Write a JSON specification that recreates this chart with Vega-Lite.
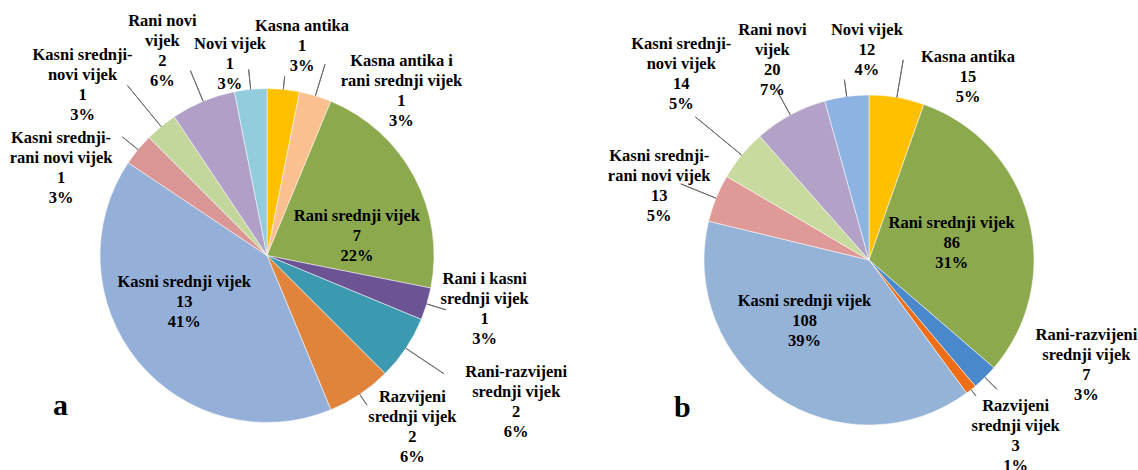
{
  "$schema": "https://vega.github.io/schema/vega-lite/v6.json",
  "padding": {"left": 0, "top": 5, "right": 0, "bottom": 0},
  "bounds": "flush",
  "spacing": 66,
  "background": "white",
  "config": {
    "view": {"stroke": null},
    "text": {"font": "Liberation Serif", "fontWeight": "bold", "fontSize": 16.5, "lineHeight": 20, "lineBreak": "\n", "align": "center", "baseline": "middle", "fill": "black"}
  },
  "datasets": {
    "a": [
      {"name": "Kasna antika", "value": 1, "label": "Kasna antika\n1\n3%"},
      {"name": "Kasna antika i rani srednji vijek", "value": 1, "label": "Kasna antika i\nrani srednji vijek\n1\n3%"},
      {"name": "Rani srednji vijek", "value": 7, "label": "Rani srednji vijek\n7\n22%"},
      {"name": "Rani i kasni srednji vijek", "value": 1, "label": "Rani i kasni\nsrednji vijek\n1\n3%"},
      {"name": "Rani-razvijeni srednji vijek", "value": 2, "label": "Rani-razvijeni\nsrednji vijek\n2\n6%"},
      {"name": "Razvijeni srednji vijek", "value": 2, "label": "Razvijeni\nsrednji vijek\n2\n6%"},
      {"name": "Kasni srednji vijek", "value": 13, "label": "Kasni srednji vijek\n13\n41%"},
      {"name": "Kasni srednji-rani novi vijek", "value": 1, "label": "Kasni srednji-\nrani novi vijek\n1\n3%"},
      {"name": "Kasni srednji-novi vijek", "value": 1, "label": "Kasni srednji-\nnovi vijek\n1\n3%"},
      {"name": "Rani novi vijek", "value": 2, "label": "Rani novi\nvijek\n2\n6%"},
      {"name": "Novi vijek", "value": 1, "label": "Novi  vijek\n1\n3%"}
    ],
    "b": [
      {"name": "Kasna antika", "value": 15, "label": "Kasna antika\n15\n5%"},
      {"name": "Rani srednji vijek", "value": 86, "label": "Rani srednji vijek\n86\n31%"},
      {"name": "Rani-razvijeni srednji vijek", "value": 7, "label": "Rani-razvijeni\nsrednji vijek\n7\n3%"},
      {"name": "Razvijeni srednji vijek", "value": 3, "label": "Razvijeni\nsrednji vijek\n3\n1%"},
      {"name": "Kasni srednji vijek", "value": 108, "label": "Kasni srednji vijek\n108\n39%"},
      {"name": "Kasni srednji-rani novi vijek", "value": 13, "label": "Kasni srednji-\nrani novi vijek\n13\n5%"},
      {"name": "Kasni srednji-novi vijek", "value": 14, "label": "Kasni srednji-\nnovi vijek\n14\n5%"},
      {"name": "Rani novi vijek", "value": 20, "label": "Rani novi\nvijek\n20\n7%"},
      {"name": "Novi vijek", "value": 12, "label": "Novi vijek\n12\n4%"}
    ]
  },
  "resolve": {"scale": {"color": "independent", "theta": "independent"}},
  "hconcat": [
    {
      "width": 534,
      "height": 501,
      "title": {"text": "a", "orient": "bottom", "anchor": "start", "frame": "group", "offset": -115, "dx": 53, "font": "Liberation Serif", "fontSize": 30, "fontWeight": "bold", "color": "black"},
      "data": {"name": "a"},
      "transform": [
        {"window": [{"op": "row_number", "as": "idx"}]},
        {"stack": "value", "groupby": [], "sort": [{"field": "idx", "order": "ascending"}], "as": ["v0", "v1"]}
      ],
      "layer": [
        {
          "mark": {"type": "arc", "outerRadius": 167, "stroke": "white", "strokeWidth": 0.5},
          "encoding": {
            "theta": {"field": "v0", "type": "quantitative", "scale": {"domain": [0, 32]}},
            "theta2": {"field": "v1"},
            "color": {
              "field": "name", "type": "nominal", "legend": null,
              "scale": {
                "domain": ["Kasna antika", "Kasna antika i rani srednji vijek", "Rani srednji vijek", "Rani i kasni srednji vijek", "Rani-razvijeni srednji vijek", "Razvijeni srednji vijek", "Kasni srednji vijek", "Kasni srednji-rani novi vijek", "Kasni srednji-novi vijek", "Rani novi vijek", "Novi vijek"],
                "range": ["#FFC000", "#FAC090", "#8CA94D", "#6B5394", "#3B9AB0", "#E0843C", "#95B0D8", "#DA9694", "#C3D69B", "#B0A0C8", "#93CDDD"]
              }
            }
          }
        },
        {"transform": [{"filter": {"field": "name", "oneOf": ["Kasna antika", "Razvijeni srednji vijek"]}}],
         "mark": {"type": "arc", "outerRadius": 180, "innerRadius": 167, "padAngle": 3, "fillOpacity": 0, "stroke": "#6e6e6e", "strokeWidth": 1},
         "encoding": {"theta": {"field": "v0", "type": "quantitative", "scale": {"domain": [0, 32]}}, "theta2": {"field": "v1"}}},
        {"transform": [{"filter": {"field": "name", "oneOf": ["Rani i kasni srednji vijek", "Kasni srednji-rani novi vijek", "Novi vijek"]}}],
         "mark": {"type": "arc", "outerRadius": 187, "innerRadius": 167, "padAngle": 3, "fillOpacity": 0, "stroke": "#6e6e6e", "strokeWidth": 1},
         "encoding": {"theta": {"field": "v0", "type": "quantitative", "scale": {"domain": [0, 32]}}, "theta2": {"field": "v1"}}},
        {"transform": [{"filter": {"field": "name", "oneOf": ["Kasna antika i rani srednji vijek", "Rani novi vijek"]}}],
         "mark": {"type": "arc", "outerRadius": 200, "innerRadius": 167, "padAngle": 3, "fillOpacity": 0, "stroke": "#6e6e6e", "strokeWidth": 1},
         "encoding": {"theta": {"field": "v0", "type": "quantitative", "scale": {"domain": [0, 32]}}, "theta2": {"field": "v1"}}},
        {"transform": [{"filter": {"field": "name", "oneOf": ["Rani-razvijeni srednji vijek"]}}],
         "mark": {"type": "arc", "outerRadius": 213, "innerRadius": 167, "padAngle": 3, "fillOpacity": 0, "stroke": "#6e6e6e", "strokeWidth": 1},
         "encoding": {"theta": {"field": "v0", "type": "quantitative", "scale": {"domain": [0, 32]}}, "theta2": {"field": "v1"}}},
        {"transform": [{"filter": {"field": "name", "oneOf": ["Kasni srednji-novi vijek"]}}],
         "mark": {"type": "arc", "outerRadius": 220, "innerRadius": 167, "padAngle": 3, "fillOpacity": 0, "stroke": "#6e6e6e", "strokeWidth": 1},
         "encoding": {"theta": {"field": "v0", "type": "quantitative", "scale": {"domain": [0, 32]}}, "theta2": {"field": "v1"}}},
        {"transform": [{"filter": "datum.name === 'Kasna antika'"}], "mark": {"type": "text", "radius": 210, "dx": 35, "dy": -20}, "encoding": {"theta": {"field": "v0", "type": "quantitative", "stack": null, "scale": {"domain": [0, 32]}}, "text": {"field": "label"}}},
        {"transform": [{"filter": "datum.name === 'Kasna antika i rani srednji vijek'"}], "mark": {"type": "text", "radius": 187, "dx": 98, "dy": -11}, "encoding": {"theta": {"field": "v0", "type": "quantitative", "stack": null, "scale": {"domain": [0, 32]}}, "text": {"field": "label"}}},
        {"transform": [{"filter": "datum.name === 'Rani srednji vijek'"}], "mark": {"type": "text", "radius": 52, "dx": 70, "dy": 9}, "encoding": {"theta": {"field": "v0", "type": "quantitative", "stack": null, "scale": {"domain": [0, 32]}}, "text": {"field": "label"}}},
        {"transform": [{"filter": "datum.name === 'Rani i kasni srednji vijek'"}], "mark": {"type": "text", "radius": 224, "dx": -2, "dy": -20}, "encoding": {"theta": {"field": "v0", "type": "quantitative", "stack": null, "scale": {"domain": [0, 32]}}, "text": {"field": "label"}}},
        {"transform": [{"filter": "datum.name === 'Rani-razvijeni srednji vijek'"}], "mark": {"type": "text", "radius": 286, "dx": -15, "dy": 7}, "encoding": {"theta": {"field": "v0", "type": "quantitative", "stack": null, "scale": {"domain": [0, 32]}}, "text": {"field": "label"}}},
        {"transform": [{"filter": "datum.name === 'Razvijeni srednji vijek'"}], "mark": {"type": "text", "radius": 224, "dx": -13, "dy": -17}, "encoding": {"theta": {"field": "v0", "type": "quantitative", "stack": null, "scale": {"domain": [0, 32]}}, "text": {"field": "label"}}},
        {"transform": [{"filter": "datum.name === 'Kasni srednji vijek'"}], "mark": {"type": "text", "radius": 11, "dx": -87, "dy": 16}, "encoding": {"theta": {"field": "v0", "type": "quantitative", "stack": null, "scale": {"domain": [0, 32]}}, "text": {"field": "label"}}},
        {"transform": [{"filter": "datum.name === 'Kasni srednji-rani novi vijek'"}], "mark": {"type": "text", "radius": 220, "dx": -23, "dy": 5}, "encoding": {"theta": {"field": "v0", "type": "quantitative", "stack": null, "scale": {"domain": [0, 32]}}, "text": {"field": "label"}}},
        {"transform": [{"filter": "datum.name === 'Kasni srednji-novi vijek'"}], "mark": {"type": "text", "radius": 251, "dx": -7, "dy": -23}, "encoding": {"theta": {"field": "v0", "type": "quantitative", "stack": null, "scale": {"domain": [0, 32]}}, "text": {"field": "label"}}},
        {"transform": [{"filter": "datum.name === 'Rani novi vijek'"}], "mark": {"type": "text", "radius": 228, "dx": 22, "dy": -45}, "encoding": {"theta": {"field": "v0", "type": "quantitative", "stack": null, "scale": {"domain": [0, 32]}}, "text": {"field": "label"}}},
        {"transform": [{"filter": "datum.name === 'Novi vijek'"}], "mark": {"type": "text", "radius": 195, "dx": 1, "dy": -20}, "encoding": {"theta": {"field": "v0", "type": "quantitative", "stack": null, "scale": {"domain": [0, 32]}}, "text": {"field": "label"}}}
      ]
    },
    {
      "width": 538,
      "height": 510,
      "title": {"text": "b", "orient": "bottom", "anchor": "start", "frame": "group", "offset": -122, "dx": 74, "font": "Liberation Serif", "fontSize": 30, "fontWeight": "bold", "color": "black"},
      "data": {"name": "b"},
      "transform": [
        {"window": [{"op": "row_number", "as": "idx"}]},
        {"stack": "value", "groupby": [], "sort": [{"field": "idx", "order": "ascending"}], "as": ["v0", "v1"]}
      ],
      "layer": [
        {
          "mark": {"type": "arc", "outerRadius": 165, "stroke": "white", "strokeWidth": 0.5},
          "encoding": {
            "theta": {"field": "v0", "type": "quantitative", "scale": {"domain": [0, 278]}},
            "theta2": {"field": "v1"},
            "color": {
              "field": "name", "type": "nominal", "legend": null,
              "scale": {
                "domain": ["Kasna antika", "Rani srednji vijek", "Rani-razvijeni srednji vijek", "Razvijeni srednji vijek", "Kasni srednji vijek", "Kasni srednji-rani novi vijek", "Kasni srednji-novi vijek", "Rani novi vijek", "Novi vijek"],
                "range": ["#FFC000", "#8CA94D", "#4A88CC", "#EE6E18", "#95B3D7", "#DF9A98", "#C8DA9E", "#B3A2C7", "#8DB3E2"]
              }
            }
          }
        },
        {"transform": [{"filter": {"field": "name", "oneOf": ["Razvijeni srednji vijek"]}}],
         "mark": {"type": "arc", "outerRadius": 173, "innerRadius": 165, "padAngle": 3, "fillOpacity": 0, "stroke": "#6e6e6e", "strokeWidth": 1},
         "encoding": {"theta": {"field": "v0", "type": "quantitative", "scale": {"domain": [0, 278]}}, "theta2": {"field": "v1"}}},
        {"transform": [{"filter": {"field": "name", "oneOf": ["Novi vijek", "Rani-razvijeni srednji vijek"]}}],
         "mark": {"type": "arc", "outerRadius": 182, "innerRadius": 165, "padAngle": 3, "fillOpacity": 0, "stroke": "#6e6e6e", "strokeWidth": 1},
         "encoding": {"theta": {"field": "v0", "type": "quantitative", "scale": {"domain": [0, 278]}}, "theta2": {"field": "v1"}}},
        {"transform": [{"filter": {"field": "name", "oneOf": ["Rani novi vijek"]}}],
         "mark": {"type": "arc", "outerRadius": 195, "innerRadius": 165, "padAngle": 3, "fillOpacity": 0, "stroke": "#6e6e6e", "strokeWidth": 1},
         "encoding": {"theta": {"field": "v0", "type": "quantitative", "scale": {"domain": [0, 278]}}, "theta2": {"field": "v1"}}},
        {"transform": [{"filter": {"field": "name", "oneOf": ["Kasna antika", "Kasni srednji-rani novi vijek"]}}],
         "mark": {"type": "arc", "outerRadius": 203, "innerRadius": 165, "padAngle": 3, "fillOpacity": 0, "stroke": "#6e6e6e", "strokeWidth": 1},
         "encoding": {"theta": {"field": "v0", "type": "quantitative", "scale": {"domain": [0, 278]}}, "theta2": {"field": "v1"}}},
        {"transform": [{"filter": {"field": "name", "oneOf": ["Kasni srednji-novi vijek"]}}],
         "mark": {"type": "arc", "outerRadius": 225, "innerRadius": 165, "padAngle": 3, "fillOpacity": 0, "stroke": "#6e6e6e", "strokeWidth": 1},
         "encoding": {"theta": {"field": "v0", "type": "quantitative", "scale": {"domain": [0, 278]}}, "theta2": {"field": "v1"}}},
        {"transform": [{"filter": "datum.name === 'Kasna antika'"}], "mark": {"type": "text", "radius": 183, "dx": 99, "dy": -20}, "encoding": {"theta": {"field": "v0", "type": "quantitative", "stack": null, "scale": {"domain": [0, 278]}}, "text": {"field": "label"}}},
        {"transform": [{"filter": "datum.name === 'Rani srednji vijek'"}], "mark": {"type": "text", "radius": 44, "dx": 68, "dy": 4}, "encoding": {"theta": {"field": "v0", "type": "quantitative", "stack": null, "scale": {"domain": [0, 278]}}, "text": {"field": "label"}}},
        {"transform": [{"filter": "datum.name === 'Rani-razvijeni srednji vijek'"}], "mark": {"type": "text", "radius": 233, "dx": 41, "dy": -77}, "encoding": {"theta": {"field": "v0", "type": "quantitative", "stack": null, "scale": {"domain": [0, 278]}}, "text": {"field": "label"}}},
        {"transform": [{"filter": "datum.name === 'Razvijeni srednji vijek'"}], "mark": {"type": "text", "radius": 229, "dx": -1, "dy": -29}, "encoding": {"theta": {"field": "v0", "type": "quantitative", "stack": null, "scale": {"domain": [0, 278]}}, "text": {"field": "label"}}},
        {"transform": [{"filter": "datum.name === 'Kasni srednji vijek'"}], "mark": {"type": "text", "radius": 11, "dx": -71, "dy": 32}, "encoding": {"theta": {"field": "v0", "type": "quantitative", "stack": null, "scale": {"domain": [0, 278]}}, "text": {"field": "label"}}},
        {"transform": [{"filter": "datum.name === 'Kasni srednji-rani novi vijek'"}], "mark": {"type": "text", "radius": 221, "dx": 5, "dy": -52}, "encoding": {"theta": {"field": "v0", "type": "quantitative", "stack": null, "scale": {"domain": [0, 278]}}, "text": {"field": "label"}}},
        {"transform": [{"filter": "datum.name === 'Kasni srednji-novi vijek'"}], "mark": {"type": "text", "radius": 256, "dx": 33, "dy": -86}, "encoding": {"theta": {"field": "v0", "type": "quantitative", "stack": null, "scale": {"domain": [0, 278]}}, "text": {"field": "label"}}},
        {"transform": [{"filter": "datum.name === 'Rani novi vijek'"}], "mark": {"type": "text", "radius": 214, "dx": 45, "dy": -70}, "encoding": {"theta": {"field": "v0", "type": "quantitative", "stack": null, "scale": {"domain": [0, 278]}}, "text": {"field": "label"}}},
        {"transform": [{"filter": "datum.name === 'Novi vijek'"}], "mark": {"type": "text", "radius": 202, "dx": 52, "dy": -35}, "encoding": {"theta": {"field": "v0", "type": "quantitative", "stack": null, "scale": {"domain": [0, 278]}}, "text": {"field": "label"}}}
      ]
    }
  ]
}
